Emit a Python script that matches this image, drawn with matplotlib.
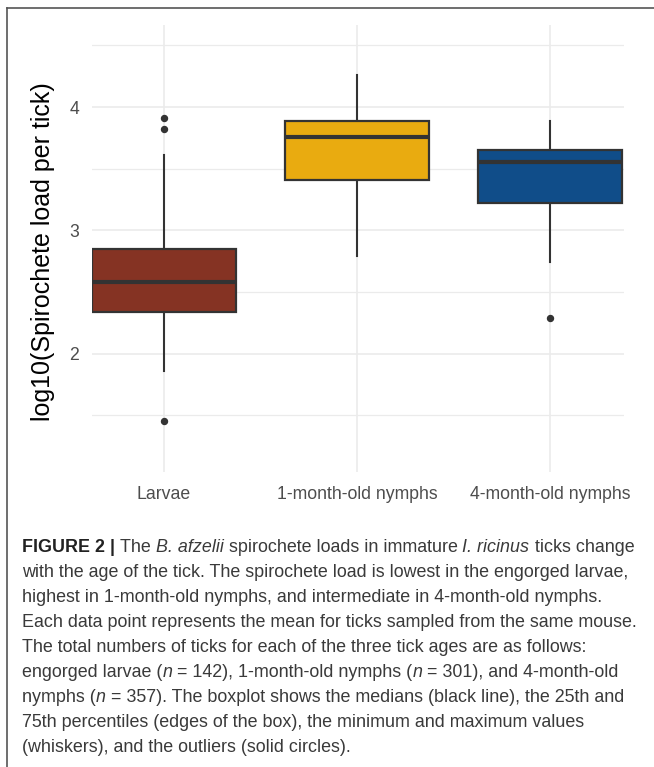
import matplotlib
matplotlib.use("Agg")
import matplotlib.pyplot as plt
from matplotlib.lines import Line2D
from matplotlib.ticker import MultipleLocator

plt.rcParams['font.family'] = ['Liberation Sans', 'DejaVu Sans']

# values
categories = ["Larvae", "1-month-old nymphs", "4-month-old nymphs"]
whisker_low = [1.86, 2.79, 2.74]
q1 = [2.34, 3.41, 3.22]
medians = [2.58, 3.76, 3.55]
q3 = [2.85, 3.89, 3.65]
whisker_high = [3.61, 4.26, 3.89]
outliers = [[3.91, 3.82, 1.45], [], [2.29]]
box_colors = ["#853323", "#E9AB10", "#104D89"]
y_ticks = [2, 3, 4]
y_label = "log10(Spirochete load per tick)"

caption_lines = [
    [("FIGURE 2 | ", "b"), ("The ", ""), ("B. afzelii", "i"),
     (" spirochete loads in immature ", ""), ("I. ricinus", "i"), (" ticks change", "")],
    [("with the age of the tick. The spirochete load is lowest in the engorged larvae,", "")],
    [("highest in 1-month-old nymphs, and intermediate in 4-month-old nymphs.", "")],
    [("Each data point represents the mean for ticks sampled from the same mouse.", "")],
    [("The total numbers of ticks for each of the three tick ages are as follows:", "")],
    [("engorged larvae (", ""), ("n", "i"), (" = 142), 1-month-old nymphs (", ""), ("n", "i"),
     (" = 301), and 4-month-old", "")],
    [("nymphs (", ""), ("n", "i"), (" = 357). The boxplot shows the medians (black line), the 25th and", "")],
    [("75th percentiles (edges of the box), the minimum and maximum values", "")],
    [("(whiskers), and the outliers (solid circles).", "")],
]

W, H = 654, 767
fig = plt.figure(figsize=(W / 100, H / 100), dpi=100)
ax = fig.add_axes([92 / W, 1 - 472 / H, 532 / W, 447 / H])

stats = []
for i, name in enumerate(categories):
    stats.append(dict(label=name, whislo=whisker_low[i], q1=q1[i], med=medians[i],
                      q3=q3[i], whishi=whisker_high[i], fliers=outliers[i]))

bp = ax.bxp(stats, positions=range(len(categories)), widths=0.75, patch_artist=True,
            showcaps=False,
            boxprops=dict(edgecolor="#333333", linewidth=1.6),
            medianprops=dict(color="#333333", linewidth=3.0, solid_capstyle="butt"),
            whiskerprops=dict(color="#333333", linewidth=1.5),
            flierprops=dict(marker="o", markerfacecolor="#333333", markeredgecolor="#333333",
                            markersize=4.3))
for patch, c in zip(bp["boxes"], box_colors):
    patch.set_facecolor(c)
for b in bp["boxes"]:
    b.set_zorder(3)
for m in bp["medians"]:
    m.set_zorder(4)

ax.set_xlim(-0.373, 2.383)
ax.set_ylim(1.04, 4.665)
ax.set_yticks(y_ticks)
ax.yaxis.set_minor_locator(MultipleLocator(0.5))
ax.set_xticks(range(len(categories)))
ax.set_xticklabels(categories)
ax.grid(True, which="major", color="#EBEBEB", linewidth=1.2, zorder=0)
ax.grid(True, which="minor", axis="y", color="#EBEBEB", linewidth=0.9, zorder=0)
ax.set_axisbelow(True)
for s in ax.spines.values():
    s.set_visible(False)
ax.tick_params(axis="both", which="both", length=0, labelsize=12.7, labelcolor="#4D4D4D")
ax.tick_params(axis="x", pad=10)
ax.tick_params(axis="y", pad=9.4)

fig.text(43 / W, 1 - 252 / H, y_label, rotation=90, ha="center", va="center",
         fontsize=18, color="black")

# frame lines of the figure panel
fig.add_artist(Line2D([7 / W, 1], [1 - 8 / H, 1 - 8 / H], color="#555555", linewidth=1.2))
fig.add_artist(Line2D([7 / W, 7 / W], [0, 1 - 8 / H], color="#555555", linewidth=1.2))

# caption, drawn run by run so that bold and italic can mix
renderer = fig.canvas.get_renderer()
cap_size = 12.9
cap_color = "#3A3A3A"


def run_style(style):
    kw = dict(fontsize=cap_size, color=cap_color, va="center", ha="left")
    if style == "b":
        kw["fontweight"] = "bold"
        kw["color"] = "#222222"
    elif style == "i":
        kw["fontstyle"] = "italic"
    return kw


def run_width(txt, kw):
    t = fig.text(0, 0, "x" + txt + "x", **kw)
    w1 = t.get_window_extent(renderer).width
    t.set_text("xx")
    w2 = t.get_window_extent(renderer).width
    t.remove()
    return w1 - w2


y = 547
for line in caption_lines:
    x = 22
    for txt, style in line:
        kw = run_style(style)
        fig.text(x / W, 1 - y / H, txt, **kw)
        x += run_width(txt, kw)
    y += 25.1

fig.savefig("out.png", dpi=100)
